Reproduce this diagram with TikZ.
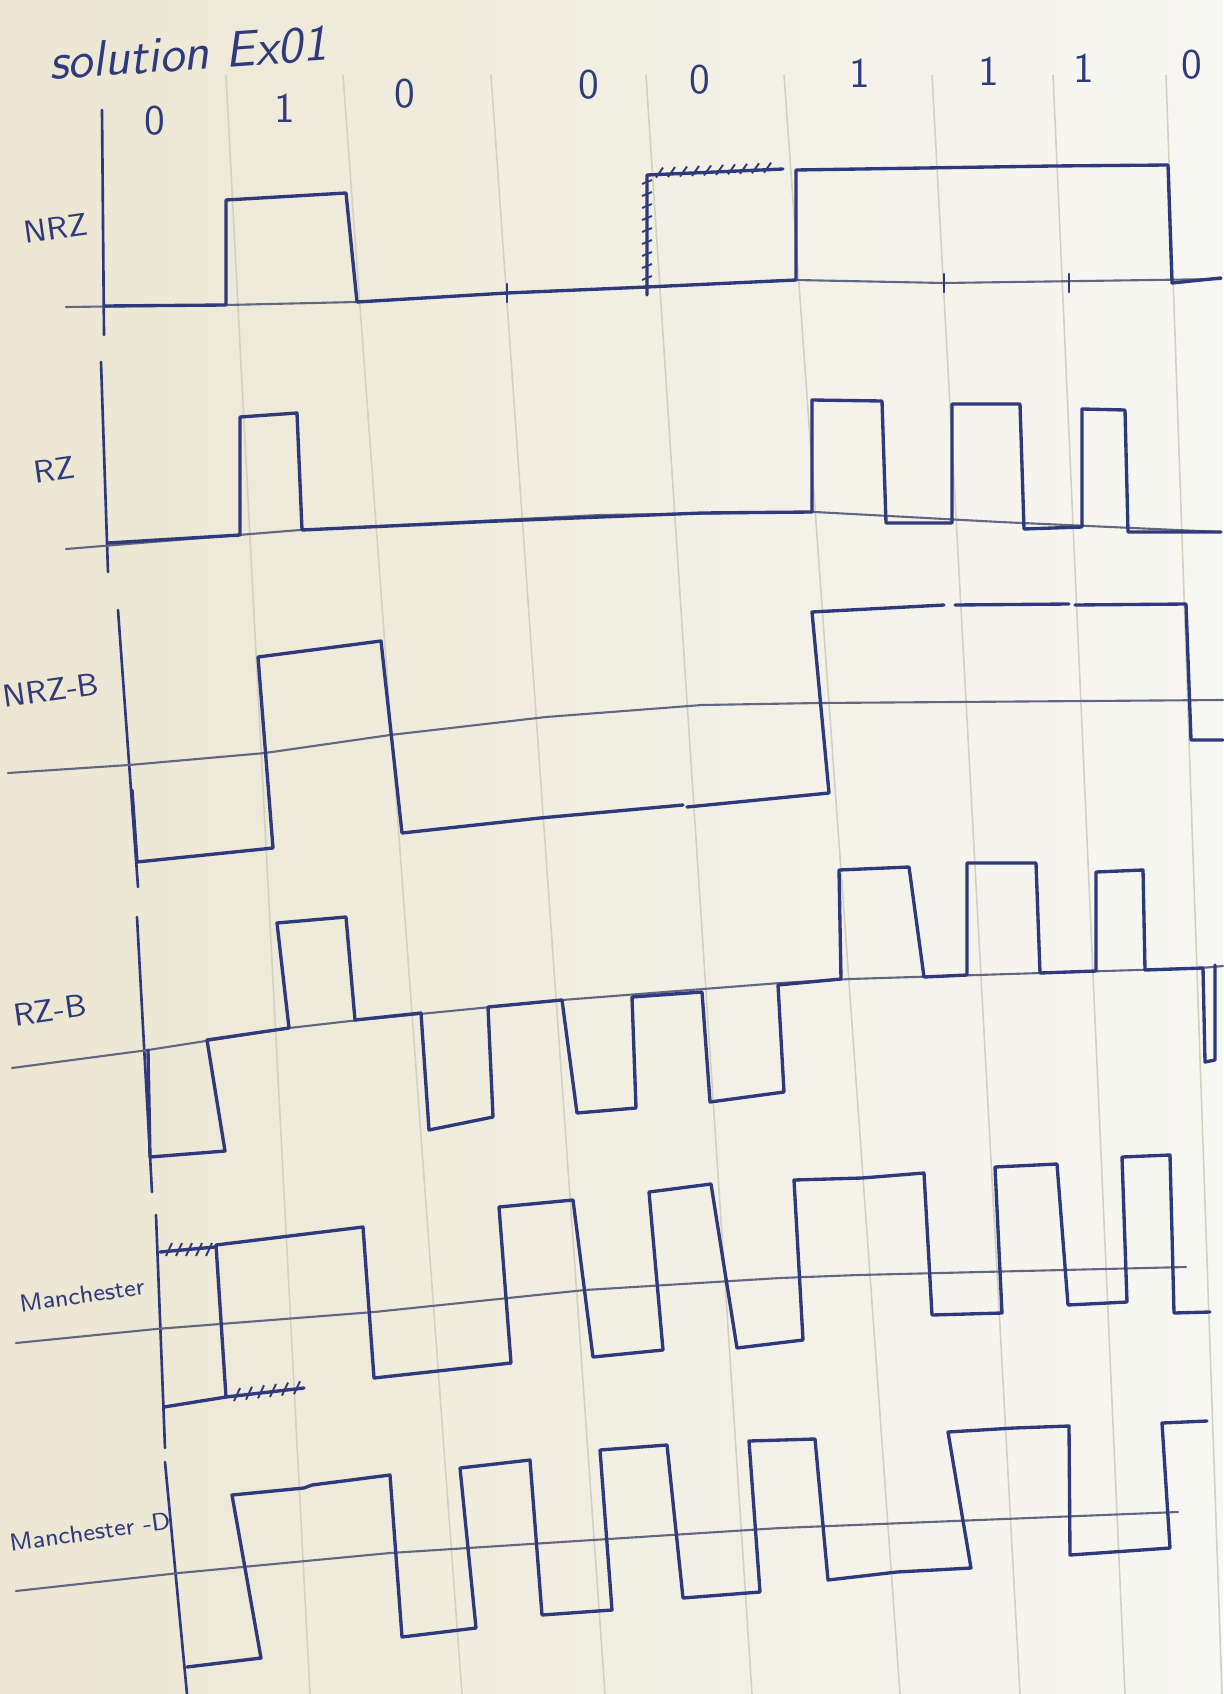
\documentclass[tikz,border=0pt]{standalone}
\usetikzlibrary{positioning}

\begin{document}
\begin{tikzpicture}[
    x=0.01cm, y=-0.01cm,
    font=\sffamily,
    % --- Styles ---
    ink/.style={draw=penBlue, line width=0.95pt, line join=round, line cap=round},
    axis_line/.style={draw=penBlue, line width=0.75pt, line cap=round},
    mid_line/.style={draw=pencil, line width=0.6pt, line cap=round},
    rule_line/.style={draw=ruleGrey, line width=0.45pt},
    hatch/.style={draw=penBlue, line width=0.55pt},
    label_text/.style={text=penBlue, font=\sffamily\small, rotate=8, inner sep=1pt},
    small_label/.style={label_text, font=\sffamily\scriptsize},
    bit_text/.style={text=penBlue, font=\sffamily\large, inner sep=0pt}
]

    % --- Colors ---
    \definecolor{penBlue}{RGB}{46,58,124}    % ball pen
    \definecolor{pencil}{RGB}{98,102,128}    % centre / base lines
    \definecolor{ruleGrey}{RGB}{212,207,195} % faint bit boundaries
    \definecolor{paperL}{RGB}{236,230,210}   % paper, left
    \definecolor{paperR}{RGB}{247,247,243}   % paper, right

    % ==========================
    % 0. PAPER + BIT BOUNDARIES
    % ==========================
    \useasboundingbox (0,0) rectangle (1223,1694);
    \shade[left color=paperL, right color=paperR] (0,0) rectangle (1223,1694);

    \foreach \xt/\xb in {226/310, 343/462, 491/605, 646/752, 784/900, 932/1020, 1053/1125, 1166/1222} {
        \draw[rule_line] (\xt,75) -- (\xb,1694);
    }

    % title + bit sequence
    \node[text=penBlue, font=\sffamily\itshape\Large, rotate=4, inner sep=0pt] (title) at (188,53) {solution Ex01};

    \foreach \x/\y/\b [count=\i] in {155/121/0, 285/108/1, 405/94/0, 589/85/0, 700/80/0, 860/73/1, 989/71/1, 1084/68/1, 1192/65/0} {
        \node[bit_text] (bit\i) at (\x,\y) {\b};
    }

    % ==========================
    % 1. NRZ
    % ==========================
    \node[label_text] (lbl_nrz) at (56,228) {NRZ};
    \draw[axis_line] (102,110) -- (104,335);
    \draw[mid_line] (66,307) -- (226,305) -- (357,302) -- (507,293) -- (647,287) -- (796,280) -- (944,283) -- (1221,279);
    \foreach \x/\y in {507/293, 944/283, 1069/283} {
        \draw[axis_line] (\x,\y-9) -- (\x,\y+9);
    }
    \draw[ink] (104,306) -- (226,305) -- (226,200) -- (346,193) -- (357,302)
        -- (507,293) -- (647,287) -- (796,280) -- (796,170) -- (1053,166) -- (1168,165)
        -- (1172,283) -- (1221,278);
    % crossed out first try
    \draw[ink] (647,295) -- (647,175) -- (783,169);
    \foreach \y in {182,194,...,278} {
        \draw[hatch] (642,\y+2) -- (652,\y-2);
    }
    \foreach \x in {656,668,...,772} {
        \draw[hatch] (\x,{178-(\x-647)*0.045}) -- (\x+7,{168-(\x-647)*0.045});
    }

    % ==========================
    % 2. RZ
    % ==========================
    \node[label_text] (lbl_rz) at (54,470) {RZ};
    \draw[axis_line] (101,362) -- (108,572);
    \draw[mid_line] (66,549) -- (300,530) -- (600,515) -- (815,512) -- (1000,522) -- (1221,532);
    \draw[ink] (108,543) -- (240,535) -- (240,417) -- (297,413) -- (302,530)
        -- (499,521) -- (702,513) -- (812,512) -- (812,400) -- (882,401) -- (886,523)
        -- (952,523) -- (952,404) -- (1020,404) -- (1024,529)
        -- (1082,527) -- (1082,409) -- (1125,410) -- (1128,532) -- (1221,532);

    % ==========================
    % 3. NRZ-B
    % ==========================
    \node[label_text] (lbl_nrzb) at (51,690) {NRZ-B};
    \draw[axis_line] (118,610) -- (138,887);
    \draw[mid_line] (8,773) -- (129,765) -- (265,753) -- (390,735) -- (546,717) -- (702,705) -- (819,703) -- (1223,700);
    \draw[ink] (132,790) -- (137,862) -- (273,848) -- (258,657) -- (381,641) -- (402,833)
        -- (540,818) -- (683,805);
    \draw[ink] (687,807) -- (829,793) -- (812,612) -- (944,605);
    \draw[ink] (955,605) -- (1069,604);
    \draw[ink] (1075,605) -- (1186,604) -- (1191,740) -- (1223,740);

    % ==========================
    % 4. RZ-B
    % ==========================
    \node[label_text] (lbl_rzb) at (50,1010) {RZ-B};
    \draw[axis_line] (137,917) -- (152,1192);
    \draw[mid_line] (12,1068) -- (148,1050) -- (289,1028) -- (359,1020) -- (562,1000) -- (780,983) -- (850,979) -- (1201,968) -- (1223,966);
    \draw[ink] (148,1050) -- (150,1157) -- (225,1151) -- (207,1040) -- (289,1028)
        -- (277,923) -- (346,917) -- (355,1020) -- (421,1013)
        -- (429,1130) -- (493,1117) -- (488,1007) -- (562,1000)
        -- (577,1113) -- (636,1108) -- (632,997) -- (702,992)
        -- (710,1102) -- (784,1092) -- (778,985) -- (841,979)
        -- (839,870) -- (909,867) -- (924,977) -- (967,975)
        -- (967,863) -- (1036,863) -- (1040,973) -- (1096,971)
        -- (1096,872) -- (1143,870) -- (1145,970) -- (1203,968)
        -- (1205,1062) -- (1215,1060) -- (1215,965);

    % ==========================
    % 5. MANCHESTER
    % ==========================
    \node[small_label] (lbl_man) at (82,1295) {Manchester};
    \draw[axis_line] (156,1215) -- (165,1448);
    \draw[mid_line] (16,1343) -- (156,1329) -- (374,1312) -- (585,1290) -- (780,1278) -- (858,1275) -- (1186,1267);
    % crossed out first try
    \draw[ink] (160,1252) -- (215,1247);
    \draw[ink] (226,1397) -- (304,1388);
    \foreach \x in {166,176,...,210} {
        \draw[hatch] (\x,1256) -- (\x+6,1243);
    }
    \foreach \x in {234,246,...,298} {
        \draw[hatch] (\x,{1402-(\x-226)*0.115}) -- (\x+6,{1389-(\x-226)*0.115});
    }
    \draw[ink] (164,1407) -- (226,1397) -- (216,1245) -- (363,1227) -- (374,1378)
        -- (511,1363) -- (499,1207) -- (573,1200) -- (593,1357)
        -- (663,1350) -- (649,1192) -- (711,1184) -- (737,1348)
        -- (803,1340) -- (794,1180) -- (862,1178) -- (924,1173) -- (932,1315)
        -- (1002,1313) -- (995,1167) -- (1057,1164) -- (1068,1305)
        -- (1127,1302) -- (1122,1157) -- (1170,1155) -- (1174,1313) -- (1210,1312);

    % ==========================
    % 6. MANCHESTER -D
    % ==========================
    \node[small_label] (lbl_mand) at (90,1532) {Manchester -D};
    \draw[axis_line] (165,1462) -- (187,1694);
    \draw[mid_line] (16,1591) -- (179,1573) -- (390,1553) -- (546,1543) -- (780,1528) -- (1178,1512);
    \draw[ink] (187,1667) -- (261,1658) -- (232,1495) -- (304,1488) -- (312,1485) -- (390,1475)
        -- (402,1637) -- (476,1628) -- (460,1468) -- (530,1460)
        -- (542,1615) -- (612,1610) -- (600,1450) -- (667,1445)
        -- (683,1598) -- (760,1592) -- (749,1441) -- (815,1439)
        -- (828,1580) -- (897,1572) -- (971,1568) -- (948,1432) -- (1014,1428) -- (1069,1426)
        -- (1070,1555) -- (1170,1548) -- (1162,1423) -- (1207,1421);

\end{tikzpicture}
\end{document}
